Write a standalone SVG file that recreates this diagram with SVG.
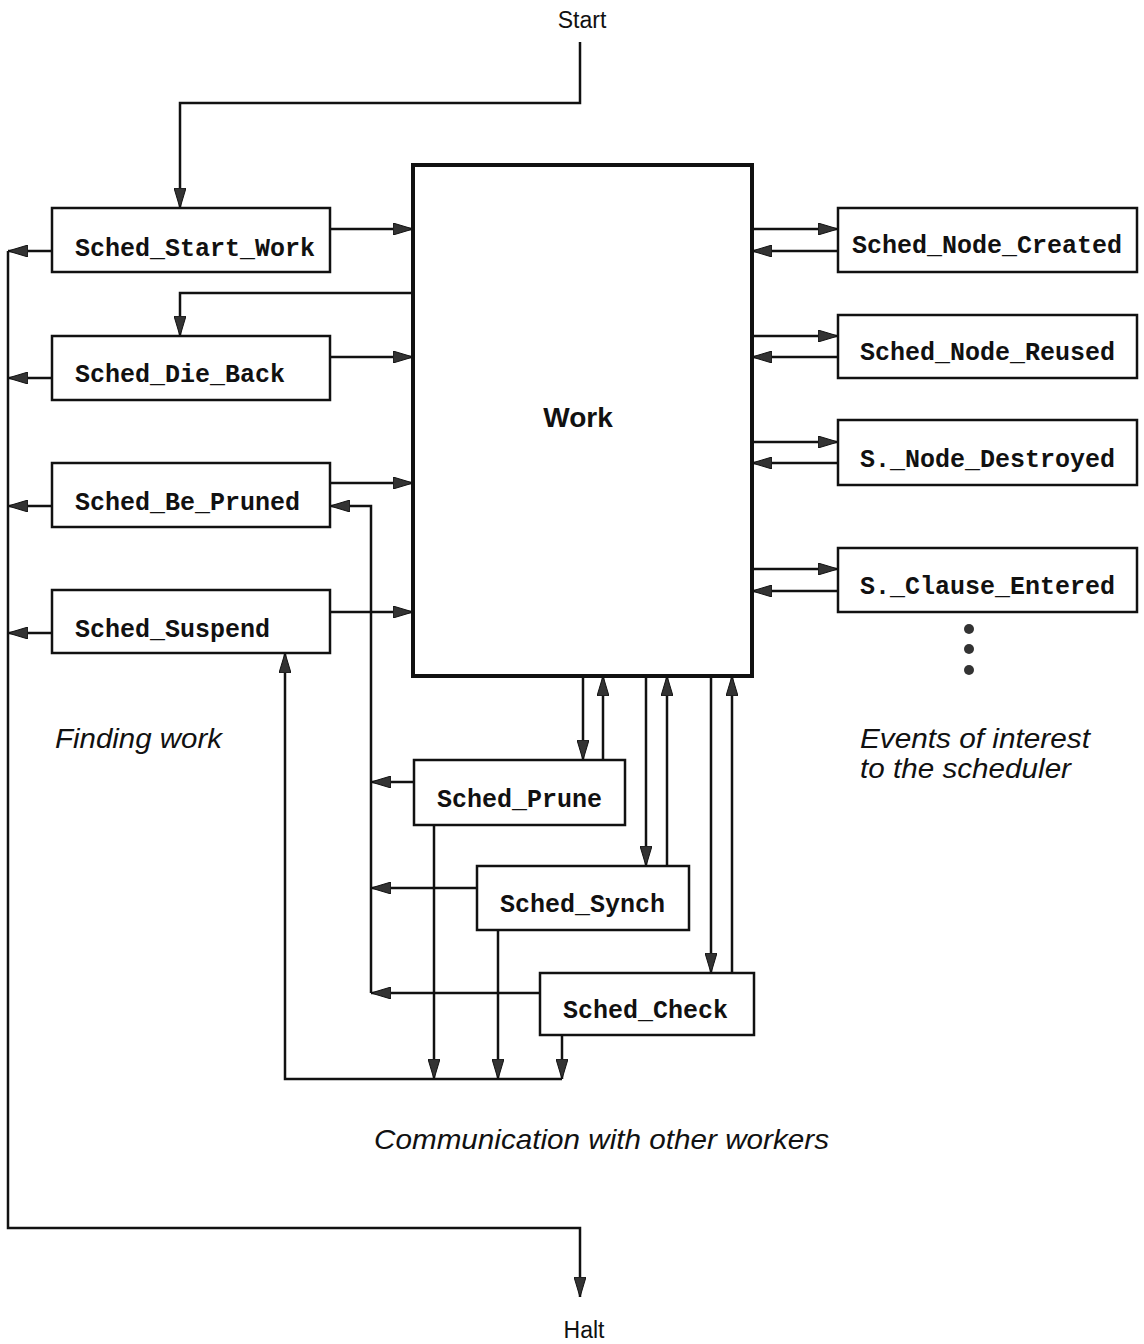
<svg xmlns="http://www.w3.org/2000/svg" width="1144" height="1344" viewBox="0 0 1144 1344">
<style>
.box{fill:#fff;stroke:#111;stroke-width:2.5}
.work{fill:#fff;stroke:#111;stroke-width:4}
.mono{font-family:"Liberation Mono","Courier New",monospace;font-weight:bold;font-size:25px;fill:#111}
.sans{font-family:"Liberation Sans",Arial,Helvetica,sans-serif;fill:#111}
.ital{font-family:"Liberation Sans",Arial,Helvetica,sans-serif;font-style:italic;font-size:28px;fill:#111}
.ln{fill:none;stroke:#111;stroke-width:2.5;marker-end:url(#ah)}
</style>
<defs>
<marker id="ah" viewBox="0 0 20 12" refX="20" refY="6" markerWidth="20" markerHeight="12" markerUnits="userSpaceOnUse" orient="auto">
<path d="M0,0 L20,6 L0,12 z" fill="#333" stroke="#111" stroke-width="1"/>
</marker>
</defs>
<g id="connectors">
<path class="ln" d="M580,42 V103 H180 V208"/>
<path class="ln" d="M330,229 H413"/>
<path class="ln" d="M52,251 H8"/>
<path class="ln" d="M413,293 H180 V336"/>
<path class="ln" d="M330,357 H413"/>
<path class="ln" d="M52,378 H8"/>
<path class="ln" d="M330,483 H413"/>
<path class="ln" d="M52,506 H8"/>
<path class="ln" d="M330,612 H413"/>
<path class="ln" d="M52,633 H8"/>
<path class="ln" d="M8,251 V1228 H580 V1297"/>
<path class="ln" d="M752,229 H838"/>
<path class="ln" d="M838,251 H752"/>
<path class="ln" d="M752,336 H838"/>
<path class="ln" d="M838,357 H752"/>
<path class="ln" d="M752,442 H838"/>
<path class="ln" d="M838,463 H752"/>
<path class="ln" d="M752,569 H838"/>
<path class="ln" d="M838,591 H752"/>
<path class="ln" d="M583,676 V760"/>
<path class="ln" d="M603,760 V676"/>
<path class="ln" d="M646,676 V866"/>
<path class="ln" d="M667,866 V676"/>
<path class="ln" d="M711,676 V973"/>
<path class="ln" d="M732,973 V676"/>
<path class="ln" d="M414,782 H371"/>
<path class="ln" d="M477,888 H371"/>
<path class="ln" d="M540,993 H371"/>
<path class="ln" d="M371,993 V506 H330"/>
<path class="ln" d="M434,825 V1079"/>
<path class="ln" d="M498,930 V1079"/>
<path class="ln" d="M562,1035 V1079"/>
<path class="ln" d="M562,1079 H285 V653"/>
</g>
<g id="start"><text class="sans" x="582" y="28" font-size="23" text-anchor="middle">Start</text></g>
<g id="halt"><text class="sans" x="584" y="1338" font-size="23" text-anchor="middle">Halt</text></g>
<g id="work"><rect class="work" x="413" y="165" width="339" height="511"/><text class="sans" x="578" y="427" font-size="28" font-weight="bold" text-anchor="middle">Work</text></g>
<g id="sched_start_work"><rect class="box" x="52" y="208" width="278" height="64"/><text class="mono" x="75" y="256">Sched_Start_Work</text></g>
<g id="sched_die_back"><rect class="box" x="52" y="336" width="278" height="64"/><text class="mono" x="75" y="382">Sched_Die_Back</text></g>
<g id="sched_be_pruned"><rect class="box" x="52" y="463" width="278" height="64"/><text class="mono" x="75" y="510">Sched_Be_Pruned</text></g>
<g id="sched_suspend"><rect class="box" x="52" y="590" width="278" height="63"/><text class="mono" x="75" y="637">Sched_Suspend</text></g>
<g id="sched_node_created"><rect class="box" x="838" y="208" width="299" height="64"/><text class="mono" x="852" y="253">Sched_Node_Created</text></g>
<g id="sched_node_reused"><rect class="box" x="838" y="315" width="299" height="63"/><text class="mono" x="860" y="360">Sched_Node_Reused</text></g>
<g id="s_node_destroyed"><rect class="box" x="838" y="420" width="299" height="65"/><text class="mono" x="860" y="467">S._Node_Destroyed</text></g>
<g id="s_clause_entered"><rect class="box" x="838" y="548" width="299" height="64"/><text class="mono" x="860" y="594">S._Clause_Entered</text></g>
<g id="ellipsis"><circle cx="969" cy="629" r="5" fill="#333"/><circle cx="969" cy="649" r="5" fill="#333"/><circle cx="969" cy="670" r="5" fill="#333"/></g>
<g id="sched_prune"><rect class="box" x="414" y="760" width="211" height="65"/><text class="mono" x="437" y="807">Sched_Prune</text></g>
<g id="sched_synch"><rect class="box" x="477" y="866" width="212" height="64"/><text class="mono" x="500" y="912">Sched_Synch</text></g>
<g id="sched_check"><rect class="box" x="540" y="973" width="214" height="62"/><text class="mono" x="563" y="1018">Sched_Check</text></g>
<g id="labels">
<text class="ital" x="55" y="748" textLength="167" lengthAdjust="spacingAndGlyphs">Finding work</text>
<text class="ital" x="860" y="748" textLength="230" lengthAdjust="spacingAndGlyphs">Events of interest</text>
<text class="ital" x="860" y="778" textLength="211" lengthAdjust="spacingAndGlyphs">to the scheduler</text>
<text class="ital" x="374" y="1149" textLength="455" lengthAdjust="spacingAndGlyphs">Communication with other workers</text>
</g>
</svg>
